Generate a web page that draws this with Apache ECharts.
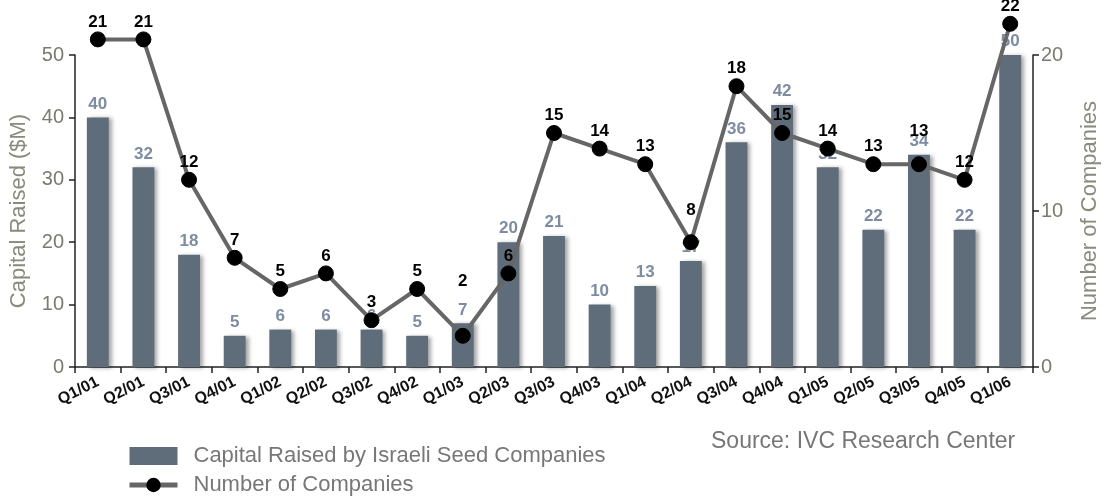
<!DOCTYPE html>
<html>
<head>
<meta charset="utf-8">
<script src="https://cdn.jsdelivr.net/npm/echarts@6/dist/echarts.min.js"></script>
<style>html,body{margin:0;padding:0;background:#fff}#c{width:1109px;height:497px}</style>
</head>
<body>
<div id="c"></div>
<script>
const categories = ['Q1/01','Q2/01','Q3/01','Q4/01','Q1/02','Q2/02','Q3/02','Q4/02','Q1/03','Q2/03','Q3/03','Q4/03','Q1/04','Q2/04','Q3/04','Q4/04','Q1/05','Q2/05','Q3/05','Q4/05','Q1/06'];
const capitalRaised = [40,32,18,5,6,6,6,5,7,20,21,10,13,17,36,42,32,22,34,22,50];
const numCompanies = [21,21,12,7,5,6,3,5,2,6,15,14,13,8,18,15,14,13,13,12,22];
const leftTicks = [0,10,20,30,40,50];
const rightTicks = [0,10,20];

const font = '"Liberation Sans", Arial, sans-serif';
const chart = echarts.init(document.getElementById('c'));
const raisedLabels = { 'Q1/03': 38, 'Q3/05': 16, 'Q2/04': 15 };
const lineData = numCompanies.map((v, i) => {
  const d = raisedLabels[categories[i]];
  return d !== undefined ? { value: v, label: { distance: d } } : v;
});
chart.setOption({
  animation: false,
  textStyle: { fontFamily: font },
  grid: { left: 74, right: 67, top: 55, bottom: 130 },
  legend: {
    orient: 'vertical', left: 127, top: 445, itemGap: 7, padding: 0,
    itemWidth: 48, itemHeight: 18,
    textStyle: { fontSize: 22, color: '#777', fontFamily: font, padding: [0, 0, 0, 11] },
    data: [
      { name: 'Capital Raised by Israeli Seed Companies', icon: 'rect' },
      { name: 'Number of Companies', lineStyle: { width: 5, color: '#666' } }
    ]
  },
  graphic: [{
    type: 'text', x: 711, y: 442,
    style: { text: 'Source: IVC Research Center', fontSize: 23, fill: '#777', fontFamily: font, textVerticalAlign: 'middle' }
  }],
  xAxis: {
    type: 'category', data: categories,
    axisLine: { lineStyle: { color: '#222', width: 1.5 } },
    axisTick: { show: true, length: 6, lineStyle: { color: '#222', width: 1.5 } },
    axisLabel: { rotate: 27, fontSize: 16, fontWeight: 'bold', color: '#111', margin: 14, interval: 0 }
  },
  yAxis: [{
    type: 'value', min: 0, max: 50, interval: 10,
    name: 'Capital Raised ($M)', nameLocation: 'middle', nameGap: 45,
    nameTextStyle: { fontSize: 22, color: '#8a8a7c' },
    axisLine: { show: true, lineStyle: { color: '#222', width: 1.5 } },
    axisTick: { show: true, length: 6, lineStyle: { color: '#222', width: 1.5 } },
    axisLabel: { fontSize: 20, color: '#7a7a6e', margin: 11, customValues: leftTicks },
    splitLine: { show: false }
  }, {
    type: 'value', min: 0, max: 20, interval: 10,
    name: 'Number of Companies', nameLocation: 'middle', nameGap: 46,
    nameRotate: 90,
    nameTextStyle: { fontSize: 22, color: '#8a8a7c' },
    axisLine: { show: true, lineStyle: { color: '#222', width: 1.5 } },
    axisTick: { show: true, length: 6, lineStyle: { color: '#222', width: 1.5 } },
    axisLabel: { fontSize: 20, color: '#7a7a6e', margin: 8, customValues: rightTicks },
    splitLine: { show: false }
  }],
  series: [{
    name: 'Capital Raised by Israeli Seed Companies',
    type: 'bar', data: capitalRaised, barWidth: '48%',
    itemStyle: {
      color: '#5f6d7b',
      shadowColor: 'rgba(0,0,0,0.35)', shadowBlur: 4, shadowOffsetX: 3, shadowOffsetY: 1
    },
    label: { show: true, position: 'top', distance: 5, fontSize: 17, fontWeight: 'bold', color: '#7d8ca0' }
  }, {
    name: 'Number of Companies',
    type: 'line', yAxisIndex: 1, data: lineData, clip: false,
    lineStyle: { color: '#666', width: 4 },
    itemStyle: { color: '#000', borderColor: '#000' },
    symbol: 'circle', symbolSize: 15,
    label: { show: true, position: 'top', distance: 1, fontSize: 17, fontWeight: 'bold', color: '#000' },
    z: 5
  }]
});
</script>
</body>
</html>
